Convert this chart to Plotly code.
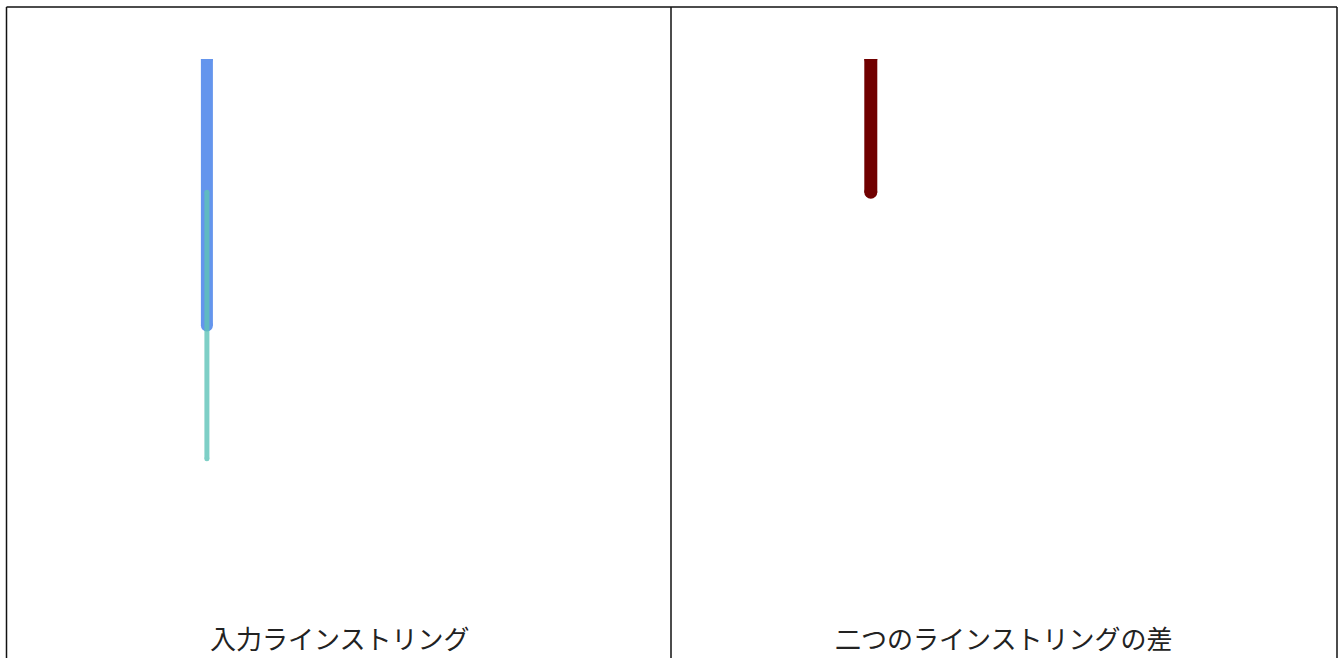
import plotly.graph_objects as go
from plotly.subplots import make_subplots

# input linestrings (x, y)
line_a_x = [0, 0]
line_a_y = [3, 1]
line_b_x = [0, 0]
line_b_y = [2, 0]

# difference of the two linestrings
diff_x = [0, 0]
diff_y = [3, 2]

titles = ["入力ラインストリング", "二つのラインストリングの差"]

W, H = 1342, 658
px = lambda v: v / W
py = lambda v: 1 - v / H

fig = make_subplots(rows=1, cols=2)

fig.add_trace(go.Scatter(x=line_a_x, y=line_a_y, mode="lines+markers",
                         line=dict(color="#6495ED", width=12),
                         marker=dict(color="#6495ED", size=12)), row=1, col=1)
fig.add_trace(go.Scatter(x=line_b_x, y=line_b_y, mode="lines+markers",
                         line=dict(color="#5FC4B8", width=5),
                         marker=dict(color="#5FC4B8", size=5),
                         opacity=0.8), row=1, col=1)
fig.add_trace(go.Scatter(x=diff_x, y=diff_y, mode="lines+markers",
                         line=dict(color="#700000", width=13),
                         marker=dict(color="#700000", size=13)), row=1, col=2)

ax = dict(visible=False, range=[-1.5, 3.5], fixedrange=True)
ay = dict(visible=False, range=[-1, 3], fixedrange=True, domain=[py(592), py(59)])
fig.update_layout(
    xaxis=dict(ax, domain=[px(8), px(671)]),
    xaxis2=dict(ax, domain=[px(671), px(1337)]),
    yaxis=ay, yaxis2=ay,
)

# panel frames (bottom edge is below the visible area)
frame = dict(type="line", xref="paper", yref="paper", line=dict(color="#111", width=1.5))
fig.add_shape(frame, x0=px(6.5), x1=px(1337), y0=py(7), y1=py(7))
for xv in [6.5, 671, 1337]:
    fig.add_shape(frame, x0=px(xv), x1=px(xv), y0=py(7), y1=py(680))

for t, (l, r) in zip(titles, [(8, 671), (671, 1337)]):
    fig.add_annotation(text=t, x=px((l + r) / 2), y=py(637), xref="paper", yref="paper",
                       showarrow=False, xanchor="center", yanchor="middle",
                       font=dict(family="Noto Sans CJK JP", size=26, color="#222"))

fig.update_layout(width=W, height=H, margin=dict(l=0, r=0, t=0, b=0),
                  showlegend=False, plot_bgcolor="white", paper_bgcolor="white")

fig.write_html("out.html", config={"displayModeBar": False},
               post_script="document.body.style.margin='0px';document.body.style.overflow='hidden';")
